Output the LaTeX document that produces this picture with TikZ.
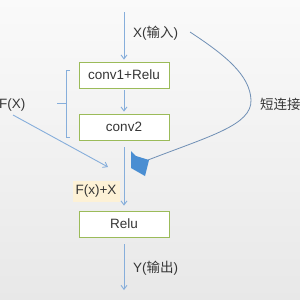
\documentclass[tikz,border=0pt]{standalone}
\usepackage{fontspec}
\setmainfont{Liberation Sans}
\newfontfamily\cjk{Noto Sans CJK SC}
\usetikzlibrary{arrows.meta}
\definecolor{boxgreen}{HTML}{9BBB59}
\definecolor{linkblue}{HTML}{86AEDB}
\definecolor{darkblue}{HTML}{4A8ED2}
\definecolor{curveblue}{HTML}{6F8FB5}
\definecolor{txt}{HTML}{363636}
\definecolor{labelbg}{HTML}{FDF1D6}
\tikzset{
  layer/.style={draw=boxgreen, line width=0.8pt, fill=white, minimum width=90pt, minimum height=26pt, inner sep=0pt, text=txt, font=\fontsize{13.5}{15}\selectfont},
  lbl/.style={text=txt, font=\fontsize{13.5}{15}\selectfont, inner sep=0pt},
  flow/.style={draw=linkblue, line width=0.9pt, -{Straight Barb[length=4pt,width=6pt]}},
}
\begin{document}
\begin{tikzpicture}[x=1pt,y=-1pt]
\shade[top color=white!98!black, bottom color=white!91!black] (0,0) rectangle (300,300);
\useasboundingbox (0,0) rectangle (300,300);
\clip (0,0) rectangle (300,300);
% nodes
\node[layer] (c1) at (124,75) {conv1+Relu};
\node[layer] (c2) at (124,127) {conv2};
\node[layer] (r) at (124,224) {Relu};
\coordinate (in) at (124,12);
\coordinate (out) at (124,290);
\coordinate (fs) at (13,115);
\coordinate (fe) at (108,167);
\coordinate (ss) at (190,32);
\coordinate (se) at (148,160);
% labels
\node[lbl, anchor=west] (xl) at (133,33) {X({\cjk 输入})};
\node[lbl, anchor=west] (yl) at (133,268) {Y({\cjk 输出})};
\node[lbl, anchor=west] (fx) at (-1,105) {F(X)};
\node[lbl, anchor=west] (sc) at (260,104) {\cjk 短连接};
\node[lbl, fill=labelbg, minimum width=47pt, minimum height=21pt] (fxx) at (96,191) {F(x)+X};
% connectors
\draw[flow, shorten >=2pt] (in) -- (c1);
\draw[flow, shorten <=2pt, shorten >=2pt] (c1) -- (c2);
\draw[flow, shorten <=7pt, shorten >=5pt] (c2) -- (r);
\draw[flow, shorten <=7pt] (r) -- (out);
\draw[flow] (fs) -- (fe);
% brace
\draw[linkblue, line width=0.9pt] (70,70) -- (66,70) -- (66,137) -- (70,137);
\draw[linkblue, line width=0.9pt] (57,103) -- (66,103);
% short connection curve
\draw[curveblue, line width=0.8pt] (ss) .. controls (225,55) and (250,75) .. (251,100)
  .. controls (252,125) and (210,136) .. (se);
\fill[darkblue] (131,151) -- (136,156) -- (149,160) -- (145,176) -- (131,168) -- cycle;
\end{tikzpicture}
\end{document}
